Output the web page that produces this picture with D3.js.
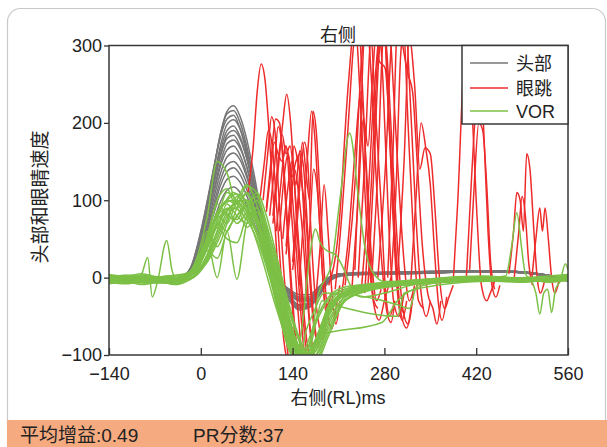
<!DOCTYPE html>
<html><head><meta charset="utf-8">
<script src="https://cdn.jsdelivr.net/npm/d3@7/dist/d3.min.js"></script>
<style>body{margin:0;background:#fff}svg{display:block}text{font-family:"Liberation Sans","Noto Sans CJK SC",Arial,sans-serif}</style>
</head><body>
<svg id="c" width="607" height="447"></svg>
<script>
// ---- data ----
const chartTitle = "右侧";
const xLabel = "右侧(RL)ms";
const yLabel = "头部和眼睛速度";
const footer1 = "平均增益:0.49";
const footer2 = "PR分数:37";
const legendLabels = ["头部", "眼跳", "VOR"];
const xTicks = [-140, 0, 140, 280, 420, 560];
const yTicks = [-100, 0, 100, 200, 300];

const headT = [-140,-110,-80,-50,-30,-15,0,10,20,30,40,50,60,70,80,90,100,110,120,135,150,165,180,195,215,250,300,360,420,480,530,560];
const headTraces = [
 [-4,-5,-4,-6,-2,12,56,96,141,186,215,222,208,179,139,94,54,20,-8,-25,-40,-38,-22,-5,3,5,5,6,8,8,3,-3],
 [-5,-4,-6,-5,-1,13,58,98,142,185,212,216,200,170,130,88,48,16,-10,-27,-38,-35,-20,-3,4,6,6,7,9,8,2,-4],
 [-3,-5,-5,-4,0,14,60,100,143,182,205,210,192,160,120,80,42,12,-12,-30,-42,-39,-24,-6,2,4,5,6,8,7,2,-5],
 [-6,-6,-5,-7,-3,10,50,88,130,171,198,204,192,165,128,87,49,19,-6,-22,-36,-35,-20,-3,4,6,6,7,9,8,3,-2],
 [-4,-3,-5,-4,-1,12,52,88,127,165,190,196,182,155,118,78,42,12,-10,-25,-35,-32,-18,-2,5,6,6,7,8,7,2,-4],
 [-5,-6,-4,-5,-2,10,47,82,121,159,184,190,179,154,119,81,46,17,-6,-20,-30,-30,-16,-1,5,6,7,8,9,8,3,-3],
 [-3,-4,-3,-5,0,13,52,86,122,157,180,184,170,143,108,70,36,8,-14,-30,-40,-36,-20,-4,3,5,5,6,8,7,2,-4],
 [-6,-5,-6,-6,-3,9,44,77,113,149,173,178,167,144,112,76,43,16,-5,-18,-28,-28,-15,0,5,7,7,8,9,8,3,-2],
 [-4,-5,-4,-4,-1,11,45,76,110,144,165,170,158,134,102,67,35,9,-12,-26,-36,-34,-19,-3,4,5,6,7,8,7,2,-3],
 [-5,-4,-5,-6,-2,10,41,70,103,135,156,161,152,130,101,68,39,15,-5,-18,-27,-27,-14,0,5,6,7,8,9,8,3,-3],
 [-3,-4,-4,-5,-1,9,38,65,96,126,146,150,141,122,94,64,36,14,-6,-20,-30,-30,-17,-2,4,5,6,7,8,7,2,-4],
 [-5,-6,-5,-6,-2,8,36,61,90,119,137,142,133,114,89,60,34,13,-4,-16,-25,-25,-13,0,5,6,7,8,9,8,3,-2],
 [-4,-5,-4,-5,-2,8,33,57,83,110,127,131,123,106,82,55,32,12,-5,-18,-28,-29,-16,-2,4,5,6,7,8,7,2,-3],
 [-5,-4,-6,-5,-2,7,30,51,74,98,113,117,110,94,73,50,28,11,-4,-15,-22,-22,-12,0,5,6,7,8,8,7,2,-3]
];

const vorT = [-140,-115,-90,-65,-40,-20,-5,10,25,40,55,70,85,100,115,130,145,160,175,195,220,260,310,370,430,490,530,560];
const vorTraces = [
 [2,-3,0,-2,-4,4,28,80,150,135,95,108,80,28,-25,-75,-100,-95,-60,-28,-15,-10,-6,-2,0,-3,-2,2],
 [-5,-4,-6,-3,-8,0,15,50,85,100,108,98,70,25,-20,-65,-98,-108,-80,-38,-18,-10,-7,-4,-5,-2,-4,-1],
 [0,3,-2,1,-3,2,12,40,70,60,90,118,110,60,5,-50,-90,-110,-90,-45,-22,-12,-8,-3,-1,-4,-3,0],
 [-8,-6,-7,-5,-9,-4,5,30,60,95,80,70,85,45,0,-45,-85,-105,-100,-60,-25,-14,-6,-5,-2,-1,-6,-3],
 [3,0,2,-1,0,6,20,55,100,115,90,100,75,35,-10,-55,-95,-115,-85,-35,-15,-8,-5,0,2,-1,0,3],
 [-2,-5,-3,-6,-2,2,10,35,25,60,80,95,105,70,20,-30,-70,-100,-105,-70,-30,-15,-9,-6,-4,-6,-3,-2],
 [-4,-2,-5,-3,-6,0,18,60,40,70,105,90,60,20,-30,-80,-105,-90,-55,-25,-12,-8,-5,-3,-2,-4,-2,0],
 [1,-1,3,0,-2,3,8,25,55,85,95,75,90,60,15,-35,-80,-105,-95,-50,-20,-10,-7,-3,-4,-2,-5,-1],
 [-6,-8,-5,-7,-4,-2,6,20,45,75,100,92,70,45,0,-50,-90,-108,-85,-42,-20,-13,-9,-5,-3,-5,-4,-2],
 [0,-2,1,-1,2,5,15,45,80,70,100,120,95,50,5,-40,-80,-100,-95,-55,-25,-12,-6,-2,0,-2,-1,1],
 [-3,-4,-2,-5,-3,1,9,30,65,50,45,80,100,65,25,-25,-70,-100,-110,-75,-30,-16,-10,-6,-3,-4,-2,-3],
 [2,1,0,-3,-1,3,12,38,75,110,100,80,60,30,-15,-60,-95,-110,-85,-40,-18,-9,-4,-1,1,-2,-1,1],
 [-1,0,-3,-2,-5,-1,7,28,60,90,70,85,110,80,30,-20,-65,-95,-100,-65,-28,-15,-8,-4,-3,-3,-4,-2],
 [-7,-5,-9,-6,-8,-3,4,22,50,80,90,65,75,55,10,-40,-85,-105,-90,-48,-22,-12,-8,-6,-4,-3,-5,-4],
 [4,2,5,1,3,6,16,50,95,80,75,95,80,40,-5,-50,-90,-100,-80,-40,-18,-10,-5,-2,1,0,2,4],
 [0,-1,2,0,-2,3,25,45,0,60,-2,70,90,50,5,-40,-85,-100,-90,-45,-20,-10,-5,-2,0,-1,-2,0]
];

const vorExtra = [
 [[-140,-3],[-120,0],[-100,-2],[-90,5],[-81,26],[-74,-25],[-66,-5],[-52,48],[-44,10],[-35,-5],[-20,3],[-5,20],[10,50],[25,80],[40,100],[55,95],[70,110],[85,80],[100,30],[115,-20],[130,-70],[145,-100],[160,-100],[181,-75],[276,-58],[300,-30],[340,-10],[400,-3],[470,-2],[530,0],[560,-1]],
 [[-140,0],[-100,-2],[-60,1],[-30,0],[-10,10],[10,45],[30,90],[50,100],[70,85],[90,45],[105,5],[120,-40],[135,-80],[150,-100],[165,-90],[179,-23],[200,20],[212,100],[227,187],[240,106],[250,40],[263,6],[280,-5],[320,-5],[380,-3],[450,-1],[520,-2],[560,0]],
 [[-140,-2],[-100,-4],[-60,-3],[-30,0],[-10,12],[10,50],[30,85],[50,90],[70,75],[90,40],[105,0],[120,-50],[135,-95],[145,-105],[155,-60],[165,20],[175,63],[182,45],[192,35],[205,30],[217,13],[228,-10],[245,-25],[280,-20],[330,-8],[400,-3],[480,-2],[560,-2]],
 [[-140,-4],[-100,-6],[-60,-5],[-30,-2],[-10,8],[10,40],[30,75],[50,95],[70,100],[90,60],[105,15],[120,-35],[135,-80],[150,-100],[165,-100],[180,-70],[200,-35],[230,-20],[270,-12],[320,-8],[380,-3],[440,0],[465,2],[474,40],[482,84],[489,40],[495,5],[505,-5],[511,-20],[517,-47],[523,-20],[529,-15],[535,-45],[541,-15],[548,-5],[556,18],[560,10]],
 [[-140,-6],[-110,-4],[-80,-7],[-50,-5],[-25,0],[-10,8],[5,30],[20,60],[35,85],[50,75],[65,90],[80,70],[95,35],[110,-5],[125,-50],[140,-85],[155,-100],[165,-95],[175,-60],[185,-30],[215,-38],[300,-50],[310,-20],[360,-10],[420,-5],[500,-3],[560,0]],
 [[-140,1],[-110,3],[-80,0],[-50,2],[-25,4],[-10,12],[5,40],[20,70],[35,95],[50,110],[65,95],[80,60],[95,20],[110,-25],[125,-65],[140,-95],[150,-105],[160,-70],[172,-45],[188,-20],[300,-35],[318,-40],[330,-10],[380,-4],[440,-2],[500,-4],[560,-2]]
];

const saccTraces = [
 [[72,110],[80,170],[86,240],[92,276],[98,255],[104,190],[110,110],[116,30],[122,-40],[128,-90],[134,-115]],
 [[95,100],[102,160],[108,208],[113,190],[118,120],[124,40],[130,-30],[136,-80],[142,-110]],
 [[100,90],[107,150],[114,205],[120,200],[126,140],[132,60],[138,-20],[144,-80],[150,-110]],
 [[105,80],[112,140],[118,195],[124,170],[130,100],[136,20],[142,-50],[148,-100],[154,-120]],
 [[110,70],[118,140],[125,200],[131,237],[137,200],[143,120],[149,30],[155,-40],[160,-90],[165,-115]],
 [[115,60],[122,120],[129,170],[135,150],[141,90],[147,20],[152,-40],[157,-90],[162,-110]],
 [[110,80],[118,150],[124,185],[130,160],[136,170],[142,130],[148,60],[154,-10],[160,-70],[166,-105]],
 [[125,50],[132,110],[139,150],[145,120],[151,164],[157,140],[163,60],[169,-20],[175,-70],[180,-90]],
 [[140,20],[148,100],[155,175],[160,140],[166,100],[171,215],[176,190],[182,100],[188,10],[194,-50],[200,-66],[206,-40],[212,-10]],
 [[150,-10],[157,80],[163,160],[169,215],[174,180],[180,90],[186,0],[192,-50],[198,-20]],
 [[120,60],[127,130],[133,160],[139,130],[145,150],[151,160],[156,100],[161,20],[166,-60],[171,-100]],
 [[130,40],[136,100],[142,170],[148,150],[154,120],[160,80],[166,0],[172,-60],[178,-80],[184,-60]],
 [[100,85],[106,130],[112,175],[118,160],[124,150],[130,170],[136,110],[142,40],[148,-40],[154,-100]],
 [[140,10],[146,60],[152,130],[158,175],[163,150],[168,60],[174,-20],[180,-60],[186,-80],[192,-50]],
 [[160,-20],[166,60],[172,140],[178,110],[184,30],[190,-40],[196,-30]],
 [[175,-30],[182,40],[188,120],[194,60],[200,-20],[206,-60],[212,-30]],
 [[130,30],[137,90],[143,140],[149,110],[155,60],[161,-10],[167,-70],[173,-100]],
 [[90,100],[97,150],[103,190],[109,170],[115,100],[121,20],[127,-50],[133,-100]],
 [[195,-10],[210,60],[225,250],[235,330],[245,200],[255,40],[265,-40],[272,-55],[280,-30],[290,0]],
 [[220,-10],[235,120],[245,280],[252,340],[260,260],[268,120],[276,20],[284,-45],[290,-58],[296,-30]],
 [[230,-20],[240,100],[248,206],[255,170],[262,260],[270,340],[278,250],[286,80],[294,-30],[302,-50],[310,-20]],
 [[240,0],[250,150],[258,300],[265,350],[272,280],[281,271],[288,190],[296,60],[304,-40],[314,-65],[322,-30]],
 [[250,-20],[260,120],[268,260],[275,340],[283,300],[291,180],[300,40],[308,-40],[316,-60],[324,-20]],
 [[260,-10],[270,140],[278,310],[286,340],[294,240],[302,120],[310,20],[318,-30],[326,-10]],
 [[270,0],[282,150],[292,320],[300,350],[308,300],[316,263],[323,240],[330,150],[338,40],[346,-20],[354,-40],[360,-60],[366,-30]],
 [[235,10],[243,180],[250,320],[258,330],[266,220],[274,110],[282,-20],[288,-50],[294,-35]],
 [[285,0],[293,160],[300,330],[308,340],[316,200],[324,60],[332,-30],[340,-40]],
 [[300,0],[310,150],[318,310],[326,250],[334,140],[342,168],[350,160],[357,90],[364,0],[372,-40],[378,-26],[385,-10]],
 [[245,-15],[255,100],[262,210],[270,300],[277,360],[285,250],[293,80],[300,-20],[307,-55],[314,-30]],
 [[215,-20],[225,50],[235,160],[244,240],[252,150],[260,30],[268,-30],[275,-15]],
 [[205,-15],[215,80],[225,200],[233,300],[240,330],[248,220],[256,60],[264,-30],[270,-40]],
 [[255,-10],[264,140],[272,290],[279,320],[287,200],[295,60],[302,-30],[309,-45]],
 [[290,-5],[298,120],[305,290],[312,330],[320,220],[328,80],[336,-20],[344,-50],[350,-30]],
 [[320,-10],[328,100],[336,200],[343,168],[350,120],[356,40],[362,-30],[368,-55],[375,-25]],
 [[385,-5],[392,100],[400,260],[406,330],[412,250],[420,100],[428,-10],[436,-30],[441,-21],[448,-5]],
 [[405,0],[413,130],[420,230],[426,280],[432,180],[438,60],[444,-10],[450,-25],[456,-10]],
 [[410,10],[417,120],[424,200],[430,190],[436,120],[442,20],[448,-15]],
 [[470,5],[477,60],[482,110],[487,100],[492,60],[497,160],[502,140],[508,60],[513,0],[518,-20],[524,-5]],
 [[478,0],[485,60],[490,105],[495,80],[500,20],[506,-10]],
 [[505,0],[511,50],[517,90],[521,60],[525,90],[530,50],[535,0],[540,-20],[546,-5]]
];

// ---- drawing ----
const svg = d3.select("#c");
const W = 607, H = 447;
const colHead = "#767676", colSacc = "#ee2b2b", colVor = "#7cc046";
const lw = 1.5;

// card
svg.append("rect").attr("x", 7.5).attr("y", 8.5).attr("width", 598).attr("height", 460)
  .attr("rx", 13).attr("fill", "#fff").attr("stroke", "#c9c9c9").attr("stroke-width", 1.2);
svg.append("rect").attr("x", 7).attr("y", 420).attr("width", W - 7).attr("height", H - 420).attr("fill", "#f6aa80");

const L = 109, R = 568, T = 45.5, B = 355;
const x = d3.scaleLinear().domain([-140, 560]).range([L, R]);
const y = d3.scaleLinear().domain([-100, 300]).range([B, T]);

svg.append("defs").append("clipPath").attr("id", "clip")
  .append("rect").attr("x", L).attr("y", T).attr("width", R - L).attr("height", B - T);

const plot = svg.append("g").attr("clip-path", "url(#clip)");
const line = d3.line().x(d => x(d[0])).y(d => y(d[1])).curve(d3.curveMonotoneX);

headTraces.forEach(vals => {
  plot.append("path").attr("d", line(vals.map((v, i) => [headT[i], v])))
    .attr("fill", "none").attr("stroke", colHead).attr("stroke-width", lw);
});
saccTraces.forEach(pts => {
  plot.append("path").attr("d", line(pts)).attr("fill", "none").attr("stroke", colSacc).attr("stroke-width", lw);
});
vorTraces.forEach(vals => {
  plot.append("path").attr("d", line(vals.map((v, i) => [vorT[i], v])))
    .attr("fill", "none").attr("stroke", colVor).attr("stroke-width", lw);
});
vorExtra.forEach(pts => {
  plot.append("path").attr("d", line(pts)).attr("fill", "none").attr("stroke", colVor).attr("stroke-width", lw);
});

const fmt = d => d < 0 ? "\u2212" + Math.abs(d) : String(d);
const ax = svg.append("g").attr("transform", `translate(0,${B})`)
  .call(d3.axisBottom(x).tickValues(xTicks).tickFormat(fmt).tickSize(-7).tickPadding(12));
const ay = svg.append("g").attr("transform", `translate(${L},0)`)
  .call(d3.axisLeft(y).tickValues(yTicks).tickFormat(fmt).tickSize(5).tickPadding(2));
[ax, ay].forEach(g => {
  g.select(".domain").remove();
  g.selectAll("line").attr("stroke", "#333").attr("stroke-width", 1.3);
  g.selectAll("text").attr("font-size", 18).attr("fill", "#222")
    .attr("font-family", "'Liberation Sans',Arial,sans-serif");
});

svg.append("rect").attr("x", L).attr("y", T).attr("width", R - L).attr("height", B - T)
  .attr("fill", "none").attr("stroke", "#383838").attr("stroke-width", 1.5);

// legend
const lg = svg.append("g");
lg.append("rect").attr("x", 462).attr("y", T).attr("width", R - 462).attr("height", 124 - T)
  .attr("fill", "#fff").attr("stroke", "#383838").attr("stroke-width", 1.5);
const legCols = [colHead, colSacc, colVor];
const legY = [63, 88, 111];
legendLabels.forEach((lab, i) => {
  lg.append("line").attr("x1", 470).attr("x2", 508).attr("y1", legY[i]).attr("y2", legY[i])
    .attr("stroke", legCols[i]).attr("stroke-width", 1.3);
  lg.append("text").attr("x", 516).attr("y", legY[i] + 6.5).attr("font-size", 18).attr("fill", "#222").text(lab);
});

// titles
svg.append("text").attr("x", 338).attr("y", 41).attr("text-anchor", "middle").attr("font-size", 18).attr("fill", "#222").text(chartTitle);
svg.append("text").attr("x", 338).attr("y", 404).attr("text-anchor", "middle").attr("font-size", 18).attr("fill", "#222").text(xLabel);
svg.append("text").attr("transform", "translate(47,197) rotate(-90)").attr("text-anchor", "middle")
  .attr("font-size", 19).attr("fill", "#222").text(yLabel);
svg.append("text").attr("x", 20).attr("y", 442).attr("font-size", 19).attr("fill", "#222").text(footer1);
svg.append("text").attr("x", 193).attr("y", 442).attr("font-size", 19).attr("fill", "#222").text(footer2);
</script>
</body></html>
